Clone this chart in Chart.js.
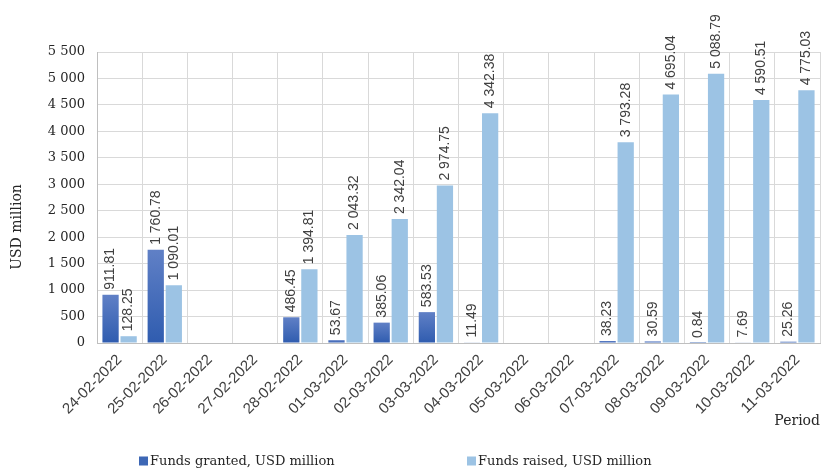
<!DOCTYPE html>
<html>
<head>
<meta charset="utf-8">
<script src="https://cdn.jsdelivr.net/npm/chart.js@4/dist/chart.umd.min.js"></script>
<style>
  html, body { margin: 0; padding: 0; background: #ffffff; }
  #wrap { width: 823px; height: 469px; position: relative; }
</style>
</head>
<body>
<div id="wrap"><canvas id="c" width="823" height="469"></canvas></div>
<script>
const categories = ['24-02-2022','25-02-2022','26-02-2022','27-02-2022','28-02-2022','01-03-2022','02-03-2022','03-03-2022','04-03-2022','05-03-2022','06-03-2022','07-03-2022','08-03-2022','09-03-2022','10-03-2022','11-03-2022'];
const fundsGranted = [911.81, 1760.78, null, null, 486.45, 53.67, 385.06, 583.53, 11.49, null, null, 38.23, 30.59, 0.84, 7.69, 25.26];
const fundsRaised = [128.25, 1090.01, null, null, 1394.81, 2043.32, 2342.04, 2974.75, 4342.38, null, null, 3793.28, 4695.04, 5088.79, 4590.51, 4775.03];
const seriesNames = ['Funds granted, USD million', 'Funds raised, USD million'];
const yTitle = 'USD million';
const xTitle = 'Period';
const yMax = 5500;
const yStep = 500;

const SERIF = '"DejaVu Serif", serif';
const SANS = '"Liberation Sans", Arial, sans-serif';
const DARK = '#3d67b5';
const LIGHT = '#9cc3e4';

function fmt(v, dec) {
  const s = v.toFixed(dec);
  const parts = s.split('.');
  parts[0] = parts[0].replace(/\B(?=(\d{3})+(?!\d))/g, ' ');
  return parts.join('.');
}

function darkGradient(c) {
  const chart = c.chart;
  if (!chart.chartArea || c.raw == null) return DARK;
  const y = chart.scales.y;
  const top = y.getPixelForValue(c.raw);
  const bot = y.getPixelForValue(0);
  if (Math.abs(bot - top) < 1) return DARK;
  const g = chart.ctx.createLinearGradient(0, top, 0, bot);
  g.addColorStop(0, '#6080c6');
  g.addColorStop(1, '#2f5caf');
  return g;
}

const labelPlugin = {
  id: 'barLabels',
  afterDatasetsDraw(chart) {
    const ctx = chart.ctx;
    ctx.save();
    ctx.font = '14px ' + SANS;
    ctx.fillStyle = '#404040';
    ctx.textAlign = 'left';
    ctx.textBaseline = 'middle';
    chart.data.datasets.forEach((ds, di) => {
      const meta = chart.getDatasetMeta(di);
      meta.data.forEach((el, i) => {
        const v = ds.data[i];
        if (v == null) return;
        ctx.save();
        ctx.translate(el.x, el.y - 5);
        ctx.rotate(-Math.PI / 2);
        ctx.fillText(fmt(v, 2), 0, 0);
        ctx.restore();
      });
    });
    ctx.restore();
  }
};

const extraTextPlugin = {
  id: 'extraText',
  afterDraw(chart) {
    const ctx = chart.ctx;
    ctx.save();
    // y axis title
    ctx.font = '14px ' + SERIF;
    ctx.fillStyle = '#262626';
    ctx.textAlign = 'center';
    ctx.textBaseline = 'middle';
    ctx.save();
    ctx.translate(17, 227);
    ctx.rotate(-Math.PI / 2);
    ctx.fillText(yTitle, 0, 0);
    ctx.restore();
    // legend
    const items = [
      { x: 139, color: DARK, text: seriesNames[0] },
      { x: 467, color: LIGHT, text: seriesNames[1] }
    ];
    ctx.font = '13px ' + SERIF;
    ctx.textAlign = 'left';
    items.forEach(it => {
      ctx.fillStyle = it.color;
      ctx.fillRect(it.x, 456.5, 9, 9);
      ctx.fillStyle = '#262626';
      ctx.fillText(it.text, it.x + 11, 461.5);
    });
    ctx.restore();
  }
};

new Chart(document.getElementById('c'), {
  type: 'bar',
  data: {
    labels: categories,
    datasets: [
      { label: seriesNames[0], data: fundsGranted, backgroundColor: darkGradient, borderWidth: 0, categoryPercentage: 0.8, barPercentage: 0.9 },
      { label: seriesNames[1], data: fundsRaised, backgroundColor: LIGHT, borderWidth: 0, categoryPercentage: 0.8, barPercentage: 0.9 }
    ]
  },
  options: {
    responsive: false,
    animation: false,
    devicePixelRatio: 1,
    layout: { padding: { left: 0, right: 3, top: 52, bottom: 0 } },
    plugins: { legend: { display: false }, tooltip: { enabled: false } },
    scales: {
      x: {
        grid: { color: '#d9d9d9', lineWidth: 1, drawTicks: false, offset: true },
        border: { color: '#bfbfbf' },
        ticks: { font: { family: SANS, size: 15 }, color: '#404040', minRotation: 45, maxRotation: 45, padding: 8, autoSkip: false },
        title: { display: true, text: xTitle, align: 'end', font: { family: SERIF, size: 14 }, color: '#262626', padding: { top: 0, bottom: 39 } },
        afterFit(scale) { scale.height = 126; }
      },
      y: {
        min: 0, max: yMax,
        grid: { color: '#d9d9d9', lineWidth: 1, drawTicks: false },
        border: { color: '#bfbfbf' },
        ticks: { stepSize: yStep, font: { family: SERIF, size: 13 }, color: '#262626', padding: 12, callback: v => fmt(v, 0) },
        afterFit(scale) { scale.width = 97; }
      }
    }
  },
  plugins: [labelPlugin, extraTextPlugin]
});
</script>
</body>
</html>
